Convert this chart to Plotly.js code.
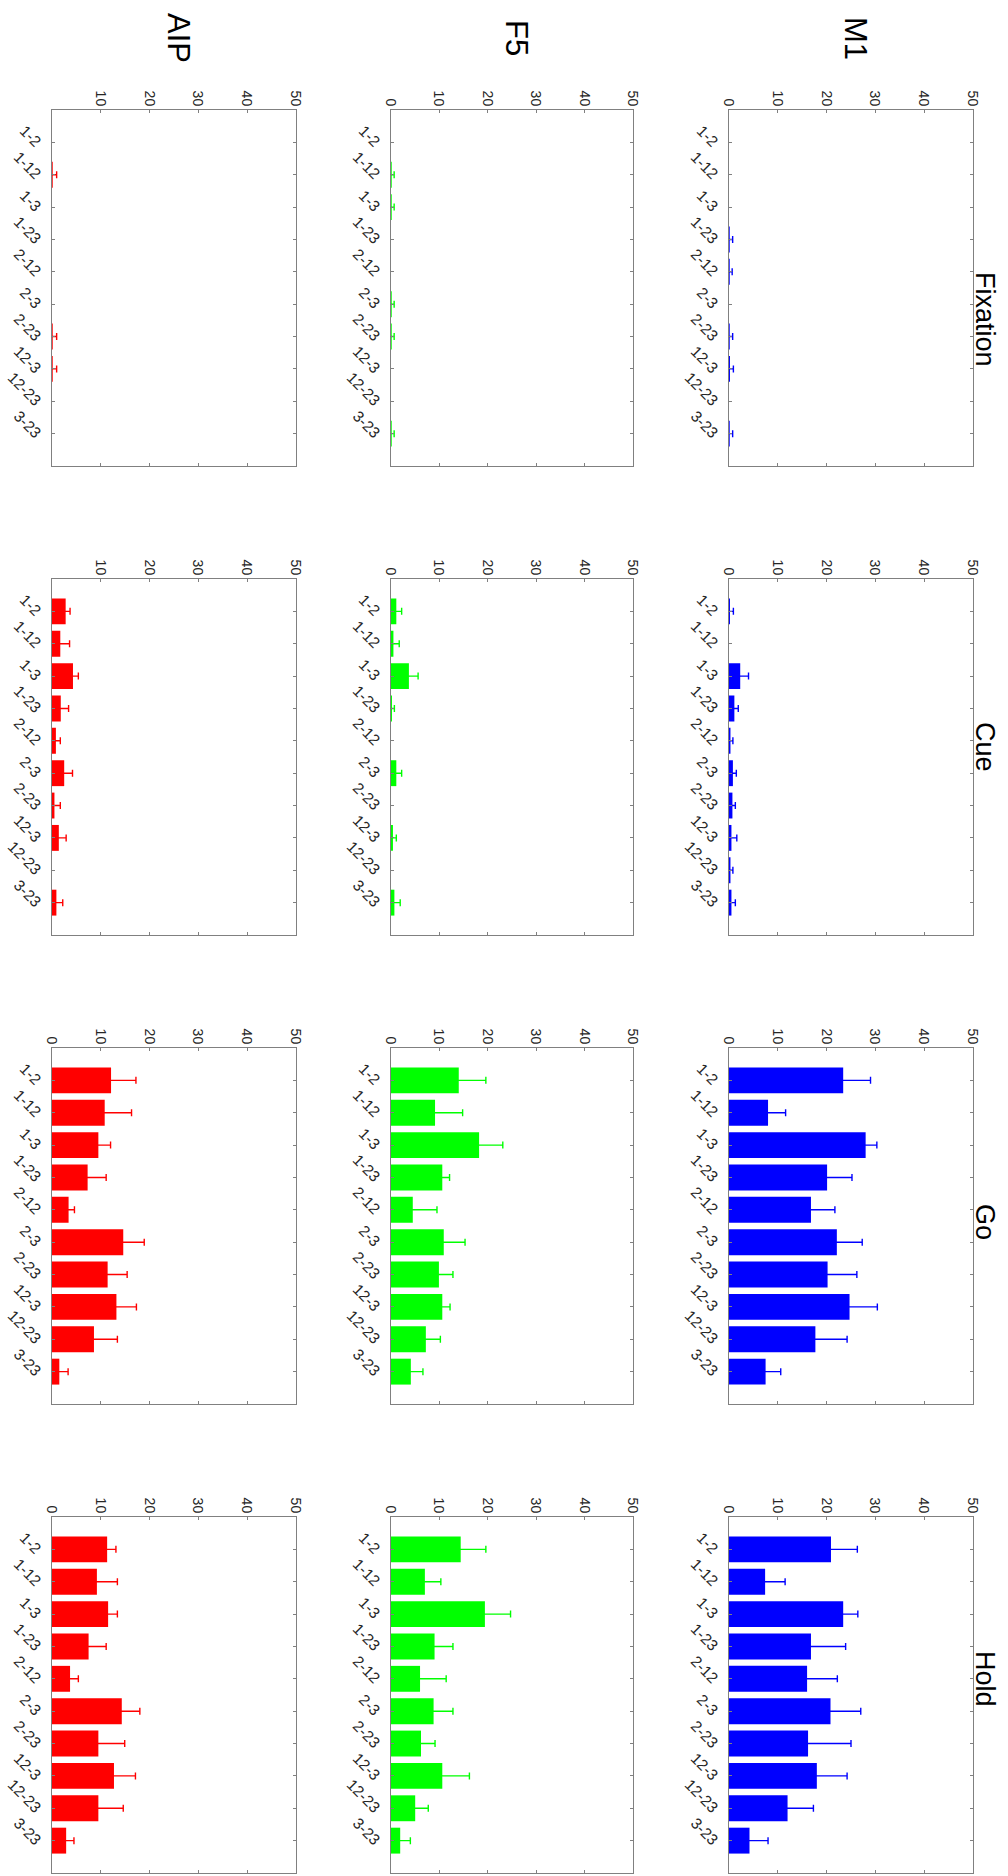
<!DOCTYPE html>
<html>
<head>
<meta charset="utf-8">
<script src="https://cdn.plot.ly/plotly-3.0.1.min.js"></script>
<style>
html, body { margin: 0; padding: 0; background: #ffffff; width: 1008px; height: 1876px; overflow: hidden; }
#wrap { position: absolute; left: 0; top: 0; width: 1876px; height: 1008px;
        transform-origin: 0 0; transform: translate(1008px, 0) rotate(90deg); }
</style>
</head>
<body>
<div id="wrap"></div>
<script>
// ---------------- data ----------------
const categories = ['1-2', '1-12', '1-3', '1-23', '2-12', '2-3', '2-23', '12-3', '12-23', '3-23'];
const areas = ['M1', 'F5', 'AIP'];
const epochs = ['Fixation', 'Cue', 'Go', 'Hold'];
const valueTicks = [0, 10, 20, 30, 40, 50];
const valueTicksNoZero = [10, 20, 30, 40, 50];

const m1Fixation    = [0, 0, 0, 0.15, 0.15, 0, 0.15, 0.2, 0, 0.15];
const m1FixationErr = [0, 0, 0, 0.6, 0.5, 0, 0.6, 0.7, 0, 0.6];
const m1Cue         = [0.2, 0, 2.3, 1.1, 0.3, 0.8, 0.7, 0.5, 0.3, 0.5];
const m1CueErr      = [0.7, 0, 1.7, 0.8, 0.5, 0.7, 0.6, 1.1, 0.5, 0.8];
const m1Go          = [23.4, 8.0, 28.0, 20.1, 16.8, 22.1, 20.2, 24.7, 17.7, 7.5];
const m1GoErr       = [5.6, 3.6, 2.3, 5.1, 4.9, 5.2, 6.0, 5.7, 6.5, 3.1];
const m1Hold        = [20.9, 7.4, 23.4, 16.8, 16.0, 20.8, 16.2, 18.0, 12.0, 4.2];
const m1HoldErr     = [5.4, 4.1, 3.0, 7.1, 6.2, 6.2, 8.8, 6.2, 5.3, 3.8];

const f5Fixation    = [0, 0.15, 0.15, 0, 0, 0.15, 0.15, 0, 0, 0.15];
const f5FixationErr = [0, 0.5, 0.5, 0, 0, 0.5, 0.5, 0, 0, 0.5];
const f5Cue         = [1.1, 0.5, 3.7, 0.2, 0, 1.1, 0, 0.4, 0, 0.7];
const f5CueErr      = [1.1, 1.2, 1.9, 0.5, 0, 1.1, 0, 0.7, 0, 1.2];
const f5Go          = [14.0, 9.1, 18.2, 10.6, 4.5, 10.9, 9.9, 10.6, 7.2, 4.1];
const f5GoErr       = [5.6, 5.7, 4.9, 1.5, 5.0, 4.4, 2.9, 1.6, 3.0, 2.5];
const f5Hold        = [14.4, 7.0, 19.4, 9.0, 6.0, 8.8, 6.2, 10.6, 5.0, 1.9];
const f5HoldErr     = [5.2, 3.3, 5.3, 3.8, 5.4, 4.0, 2.9, 5.6, 2.7, 2.1];

const aipFixation    = [0, 0.15, 0, 0, 0, 0, 0.15, 0.15, 0, 0];
const aipFixationErr = [0, 0.8, 0, 0, 0, 0, 0.8, 0.8, 0, 0];
const aipCue         = [2.8, 1.7, 4.3, 1.8, 0.8, 2.5, 0.5, 1.4, 0, 0.9];
const aipCueErr      = [0.9, 1.9, 1.1, 1.6, 0.9, 1.7, 1.2, 1.5, 0, 1.3];
const aipGo          = [12.1, 10.8, 9.5, 7.3, 3.4, 14.6, 11.4, 13.2, 8.6, 1.5];
const aipGoErr       = [5.1, 5.5, 2.5, 3.8, 1.2, 4.3, 4.0, 4.1, 4.8, 1.8];
const aipHold        = [11.3, 9.2, 11.5, 7.5, 3.7, 14.3, 9.5, 12.7, 9.5, 2.9];
const aipHoldErr     = [1.8, 4.2, 1.9, 3.6, 1.7, 3.7, 5.4, 4.4, 5.1, 1.6];

// ---------------- layout helpers ----------------
const W = 1876, H = 1008;
const colPx = [[110, 466], [579, 935], [1048, 1404], [1517, 1873]];
const rowPx = [[35, 279], [375, 617], [712, 956]];
const colTitleX = [319, 747, 1222, 1679];
const colTitleY = 23;
const rowTitleX = 38;
const rowTitleY = [152, 491, 829];
const areaColors = { 'M1': '#0000ff', 'F5': '#00ff00', 'AIP': '#ff0000' };

const panelData = {
  'M1':  { 'Fixation': [m1Fixation, m1FixationErr], 'Cue': [m1Cue, m1CueErr], 'Go': [m1Go, m1GoErr], 'Hold': [m1Hold, m1HoldErr] },
  'F5':  { 'Fixation': [f5Fixation, f5FixationErr], 'Cue': [f5Cue, f5CueErr], 'Go': [f5Go, f5GoErr], 'Hold': [f5Hold, f5HoldErr] },
  'AIP': { 'Fixation': [aipFixation, aipFixationErr], 'Cue': [aipCue, aipCueErr], 'Go': [aipGo, aipGoErr], 'Hold': [aipHold, aipHoldErr] }
};
const noZeroLabel = { 'AIP': { 'Fixation': true, 'Cue': true } };

const FONT = 'Liberation Sans, Arial, Helvetica, sans-serif';
const LINE = '#808080';
const TXT = '#262626';

const traces = [];
const layout = {
  width: W, height: H,
  margin: { l: 0, r: 0, t: 0, b: 0 },
  paper_bgcolor: '#ffffff', plot_bgcolor: '#ffffff',
  showlegend: false,
  bargap: 0.2,
  font: { family: FONT, color: TXT },
  annotations: []
};

let n = 0;
areas.forEach((area, r) => {
  epochs.forEach((epoch, c) => {
    n += 1;
    const sfx = n === 1 ? '' : String(n);
    const [vals, errs] = panelData[area][epoch];
    // a zero-length error bar is not drawn at all (no stray cap)
    const shownErrs = errs.map(e => (e > 0 ? e : NaN));
    traces.push({
      type: 'bar',
      x: categories,
      y: vals,
      xaxis: 'x' + sfx,
      yaxis: 'y' + sfx,
      marker: { color: areaColors[area], line: { width: 0 } },
      error_y: { type: 'data', array: shownErrs, visible: true, color: areaColors[area], thickness: 1.4, width: 3.5 },
      hoverinfo: 'skip'
    });
    const xd = [colPx[c][0] / W, colPx[c][1] / W];
    const yd = [1 - rowPx[r][1] / H, 1 - rowPx[r][0] / H];
    layout['xaxis' + sfx] = {
      domain: xd, anchor: 'y' + sfx,
      type: 'category', range: [-1, 10],
      tickmode: 'array', tickvals: categories, ticktext: categories,
      tickangle: -45,
      ticks: 'inside', ticklen: 3, tickwidth: 1, tickcolor: LINE,
      showline: true, linecolor: LINE, linewidth: 1, mirror: 'ticks',
      showgrid: false, zeroline: false,
      tickfont: { family: FONT, size: 15.5, color: TXT },
      fixedrange: true
    };
    const tv = (noZeroLabel[area] && noZeroLabel[area][epoch]) ? valueTicksNoZero : valueTicks;
    layout['yaxis' + sfx] = {
      domain: yd, anchor: 'x' + sfx,
      range: [0, 50],
      tickmode: 'array', tickvals: tv, ticktext: tv.map(String),
      ticks: 'inside', ticklen: 3, tickwidth: 1, tickcolor: LINE,
      showline: true, linecolor: LINE, linewidth: 1, mirror: 'ticks',
      showgrid: false, zeroline: false,
      tickfont: { family: FONT, size: 14, color: TXT },
      fixedrange: true
    };
  });
});

epochs.forEach((epoch, c) => {
  layout.annotations.push({
    text: epoch, xref: 'paper', yref: 'paper',
    x: colTitleX[c] / W, y: 1 - colTitleY / H,
    xanchor: 'center', yanchor: 'middle', showarrow: false,
    font: { family: FONT, size: 27, color: '#000000' }
  });
});
areas.forEach((area, r) => {
  layout.annotations.push({
    text: area, xref: 'paper', yref: 'paper',
    x: rowTitleX / W, y: 1 - rowTitleY[r] / H,
    xanchor: 'center', yanchor: 'middle', showarrow: false,
    font: { family: FONT, size: 31, color: '#000000' }
  });
});

Plotly.newPlot('wrap', traces, layout, { staticPlot: true, displayModeBar: false });
</script>
</body>
</html>
